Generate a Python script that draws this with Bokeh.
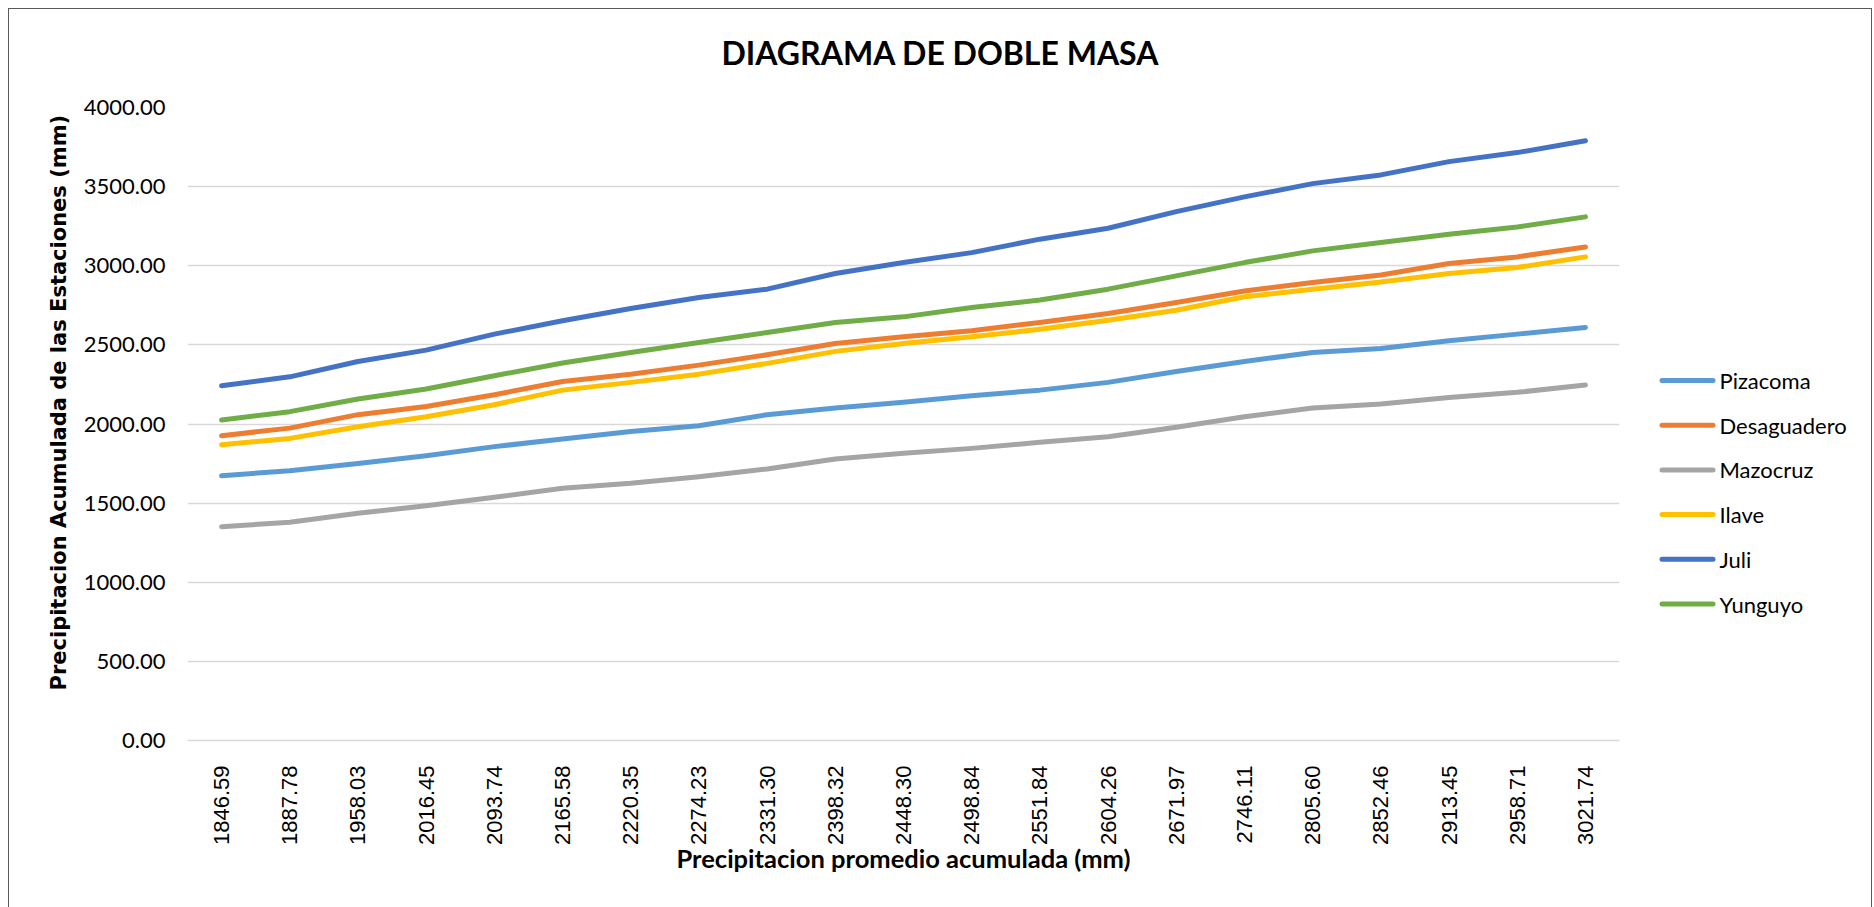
import math
from bokeh.plotting import figure
from bokeh.layouts import row, column
from bokeh.models import (Title, Label, FixedTicker, PrintfTickFormatter, Range1d)
from bokeh.core.properties import value
from bokeh.embed import file_html
from bokeh.resources import INLINE

# ---- data ----
categories = ["1846.59", "1887.78", "1958.03", "2016.45", "2093.74", "2165.58",
              "2220.35", "2274.23", "2331.30", "2398.32", "2448.30", "2498.84",
              "2551.84", "2604.26", "2671.97", "2746.11", "2805.60", "2852.46",
              "2913.45", "2958.71", "3021.74"]
pizacoma = [1673, 1705, 1751, 1800, 1857, 1905, 1953, 1989, 2059, 2101, 2137,
            2179, 2214, 2263, 2332, 2395, 2452, 2477, 2526, 2568, 2610]
desaguadero = [1926, 1974, 2059, 2111, 2185, 2269, 2315, 2372, 2437, 2509, 2551,
               2589, 2642, 2698, 2768, 2841, 2894, 2942, 3014, 3056, 3119]
mazocruz = [1351, 1379, 1436, 1484, 1537, 1594, 1625, 1667, 1716, 1779, 1815,
            1846, 1884, 1920, 1979, 2046, 2101, 2126, 2168, 2200, 2246]
ilave = [1869, 1909, 1983, 2046, 2122, 2214, 2263, 2315, 2383, 2459, 2509,
         2551, 2599, 2656, 2719, 2804, 2852, 2898, 2951, 2989, 3056]
juli = [2242, 2298, 2395, 2467, 2568, 2652, 2730, 2799, 2852, 2951, 3020,
        3083, 3168, 3237, 3342, 3435, 3519, 3574, 3658, 3715, 3790]
yunguyo = [2025, 2078, 2158, 2221, 2305, 2385, 2452, 2515, 2578, 2642, 2677,
           2736, 2783, 2852, 2936, 3020, 3094, 3147, 3199, 3245, 3309]
series_names = ["Pizacoma", "Desaguadero", "Mazocruz", "Ilave", "Juli", "Yunguyo"]
series_values = [pizacoma, desaguadero, mazocruz, ilave, juli, yunguyo]
series_colors = ["#5B9BD5", "#ED7D31", "#A5A5A5", "#FFC000", "#4472C4", "#70AD47"]
y_ticks = [0, 500, 1000, 1500, 2000, 2500, 3000, 3500, 4000]

title_text = "DIAGRAMA DE DOBLE MASA"
x_title = "Precipitacion promedio acumulada (mm)"
y_title = "Precipitacion Acumulada de las Estaciones (mm)"

xs = list(range(len(categories)))

W = 1862          # total chart width (inside border)
TH = 70           # title strip height
H = 828           # height of plot + legend strip
PW = 1612         # width of the plotting figure
LW = W - PW       # width of the legend strip
BT, BB = 28, 167  # top / bottom borders of the plotting frame
FH = H - BT - BB  # frame height in pixels

# ---------------- title strip ----------------
t = figure(width=W, height=TH, output_backend="svg", toolbar_location=None,
           title=None, x_range=Range1d(0, W), y_range=Range1d(TH, 0),
           x_axis_location=None, y_axis_location=None,
           min_border_left=0, min_border_right=0,
           min_border_top=0, min_border_bottom=0)
t.grid.visible = False
t.outline_line_color = None
t.add_layout(Label(x=W / 2, y=43, text=title_text,
                   text_align="center", text_baseline="middle",
                   text_font="Lato", text_font_style="bold",
                   text_font_size="32px", text_color="#000000"))

# ---------------- main chart ----------------
p = figure(width=PW, height=H, output_backend="svg", toolbar_location=None,
           title=None,
           x_range=Range1d(-0.5, len(categories) - 0.5),
           y_range=Range1d(y_ticks[0], y_ticks[-1]),
           min_border_left=178, min_border_right=2,
           min_border_top=BT, min_border_bottom=BB)
p.outline_line_color = None
p.background_fill_color = "white"
p.border_fill_color = "white"

# grid
p.xgrid.grid_line_color = None
p.ygrid.grid_line_color = "#D9D9D9"
p.ygrid.grid_line_width = 1.3

# y axis
p.yaxis.ticker = FixedTicker(ticks=y_ticks)
p.yaxis.formatter = PrintfTickFormatter(format="%.2f")
p.yaxis.axis_line_color = None
p.yaxis.major_tick_line_color = None
p.yaxis.minor_tick_line_color = None
p.yaxis.major_tick_in = 0
p.yaxis.major_tick_out = 0
p.yaxis.major_label_standoff = 22
p.yaxis.major_label_text_font = "Lato"
p.yaxis.major_label_text_font_size = "22px"
p.yaxis.major_label_text_color = "#000000"

# y axis title as a side title so it can be placed like the reference
p.add_layout(Title(text=y_title, align="left", offset=50, standoff=19,
                   text_font="DejaVu Sans", text_font_style="bold",
                   text_font_size="21px", text_color="#000000"), "left")

# x axis
p.xaxis.ticker = FixedTicker(ticks=xs)
p.xaxis.major_label_overrides = {i: c for i, c in zip(xs, categories)}
p.xaxis.major_label_orientation = math.pi / 2
p.xaxis.axis_line_color = "#D9D9D9"
p.xaxis.axis_line_width = 1.3
p.xaxis.major_tick_line_color = None
p.xaxis.minor_tick_line_color = None
p.xaxis.major_tick_in = 0
p.xaxis.major_tick_out = 0
p.xaxis.major_label_standoff = 25
p.xaxis.major_label_text_font = "Liberation Sans"
p.xaxis.major_label_text_font_size = "22px"
p.xaxis.major_label_text_color = "#000000"
p.xaxis.axis_label = x_title
p.xaxis.axis_label_standoff = -5
p.xaxis.axis_label_text_font = "Lato"
p.xaxis.axis_label_text_font_style = "bold"
p.xaxis.axis_label_text_font_size = "25.5px"
p.xaxis.axis_label_text_color = "#000000"

for name, vals, col in zip(series_names, series_values, series_colors):
    p.line(xs, vals, line_color=col, line_width=5,
           line_cap="round", line_join="round")

# ---------------- legend strip ----------------
# its frame is aligned with the plotting frame, so y runs 0..FH (top-down px)
q = figure(width=LW, height=H, output_backend="svg", toolbar_location=None,
           title=None, x_range=Range1d(0, LW), y_range=Range1d(FH, 0),
           x_axis_location=None, y_axis_location=None,
           min_border_left=0, min_border_right=0,
           min_border_top=BT, min_border_bottom=BB)
q.grid.visible = False
q.outline_line_color = None
q.background_fill_color = "white"
q.border_fill_color = "white"

first_row, row_pitch = 273, 44.7
sx0, sx1, tx = 40.5, 91.5, 98
rows_y = [first_row + i * row_pitch for i in range(len(series_names))]
q.segment(x0=[sx0] * len(rows_y), y0=rows_y, x1=[sx1] * len(rows_y), y1=rows_y,
          line_color=series_colors, line_width=5, line_cap="round")
q.text(x=[tx] * len(rows_y), y=rows_y, text=series_names,
       text_font=value("Lato"), text_font_size=value("22px"),
       text_color="#000000", text_align="left", text_baseline="middle")

layout = column(t, row(p, q, spacing=0), spacing=0,
                styles={"margin-left": "8px", "margin-top": "8px",
                        "border-left": "1px solid #595959",
                        "border-top": "1px solid #595959",
                        "border-right": "1px solid #595959"})

open("out.html", "w").write(file_html(layout, INLINE))
